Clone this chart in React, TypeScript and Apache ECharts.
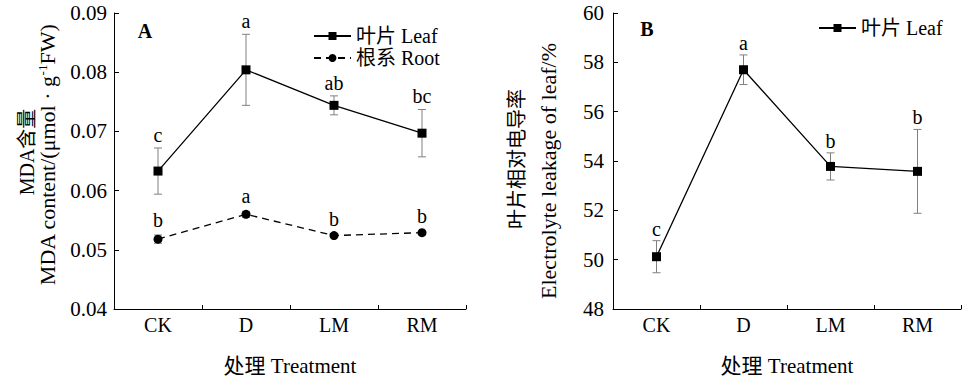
import React, { useEffect, useRef } from "react";
import * as echarts from "echarts";

const categories = ["CK", "D", "LM", "RM"];
const leafMDA = [0.0633, 0.0804, 0.0744, 0.0697];
const leafMDAErr = [0.0039, 0.006, 0.0016, 0.004];
const leafMDALetters = ["c", "a", "ab", "bc"];
const rootMDA = [0.0518, 0.056, 0.0524, 0.0529];
const rootMDAErr = [0.0007, 0.0005, 0.0002, 0.0002];
const rootMDALetters = ["b", "a", "b", "b"];
const leafEL = [50.12, 57.7, 53.78, 53.58];
const leafELErr = [0.65, 0.6, 0.55, 1.7];
const leafELLetters = ["c", "a", "b", "b"];

const FONT = "'Liberation Serif', 'DejaVu Serif', 'Noto Sans CJK SC', serif";

function errRender(letters: string[], offset: number, fs: number) {
  return (params: any, api: any) => {
    const i = api.value(0);
    const v = api.value(1);
    const e = api.value(2);
    const top = api.coord([i, v + e]);
    const bot = api.coord([i, v - e]);
    const cw = 4;
    const st = { stroke: "#808080", lineWidth: 1 };
    return {
      type: "group",
      children: [
        { type: "line", shape: { x1: top[0], y1: top[1], x2: bot[0], y2: bot[1] }, style: st },
        { type: "line", shape: { x1: top[0] - cw, y1: top[1], x2: top[0] + cw, y2: top[1] }, style: st },
        { type: "line", shape: { x1: bot[0] - cw, y1: bot[1], x2: bot[0] + cw, y2: bot[1] }, style: st },
        {
          type: "text",
          x: top[0],
          y: top[1] - offset,
          style: {
            text: letters[params.dataIndex],
            fontSize: fs,
            fontFamily: FONT,
            fill: "#000",
            align: "center",
            verticalAlign: "middle",
          },
        },
      ],
    };
  };
}

function toErrData(vals: number[], errs: number[]) {
  return vals.map((v, i) => [i, v, errs[i]]);
}

export default function App() {
  const ref = useRef<HTMLDivElement>(null);
  useEffect(() => {
    if (!ref.current) return;
    const chart = echarts.init(ref.current, undefined, { renderer: "svg" });
    const axisText = { color: "#000", fontSize: 20, fontFamily: FONT };
    const xAxisCommon = {
      type: "category",
      data: categories,
      boundaryGap: true,
      axisLine: { show: true, lineStyle: { color: "#000", width: 1 } },
      axisTick: { show: true, inside: true, length: 4, lineStyle: { color: "#000" } },
      axisLabel: { ...axisText, margin: 6 },
      nameLocation: "middle",
      nameGap: 46,
      nameTextStyle: { ...axisText, fontSize: 21 },
      splitLine: { show: false },
    };
    const yAxisCommon = {
      type: "value",
      axisLine: { show: true, lineStyle: { color: "#000", width: 1 } },
      axisTick: { show: true, inside: true, length: 5, lineStyle: { color: "#000" } },
      splitLine: { show: false },
    };
    chart.setOption({
      animation: false,
      grid: [
        { left: 114, top: 13, width: 352, height: 309 },
        { left: 613, top: 13, width: 348, height: 306 },
      ],
      xAxis: [
        { ...xAxisCommon, gridIndex: 0, name: "处理 Treatment" },
        { ...xAxisCommon, gridIndex: 1, name: "处理 Treatment" },
      ],
      yAxis: [
        {
          ...yAxisCommon,
          gridIndex: 0,
          min: 0.04,
          max: 0.09,
          interval: 0.01,
          axisLabel: { ...axisText, fontSize: 21, margin: 7, formatter: (v: number) => v.toFixed(2) },
        },
        {
          ...yAxisCommon,
          gridIndex: 1,
          min: 48,
          max: 60,
          interval: 2,
          axisLabel: { ...axisText, fontSize: 21, margin: 9 },
        },
      ],
      legend: [
        {
          data: ["叶片 Leaf", "根系 Root"],
          orient: "vertical",
          left: 308,
          top: 21,
          itemWidth: 37,
          itemHeight: 10,
          itemGap: 2,
          textStyle: { ...axisText },
        },
        {
          data: ["叶片 Leaf B"],
          orient: "vertical",
          left: 813,
          top: 13,
          itemWidth: 37,
          itemHeight: 10,
          textStyle: { ...axisText },
          formatter: () => "叶片 Leaf",
        },
      ],
      series: [
        {
          type: "custom",
          xAxisIndex: 0,
          yAxisIndex: 0,
          data: toErrData(leafMDA, leafMDAErr),
          renderItem: errRender(leafMDALetters, 13, 20),
          z: 1,
          silent: true,
        },
        {
          type: "custom",
          xAxisIndex: 0,
          yAxisIndex: 0,
          data: toErrData(rootMDA, rootMDAErr),
          renderItem: errRender(rootMDALetters, 15, 20),
          z: 1,
          silent: true,
        },
        {
          type: "custom",
          xAxisIndex: 1,
          yAxisIndex: 1,
          data: toErrData(leafEL, leafELErr),
          renderItem: errRender(leafELLetters, 12, 20),
          z: 1,
          silent: true,
        },
        {
          name: "叶片 Leaf",
          type: "line",
          xAxisIndex: 0,
          yAxisIndex: 0,
          data: leafMDA,
          symbol: "rect",
          symbolSize: 9,
          itemStyle: { color: "#000" },
          lineStyle: { color: "#000", width: 1.3 },
          z: 3,
        },
        {
          name: "根系 Root",
          type: "line",
          xAxisIndex: 0,
          yAxisIndex: 0,
          data: rootMDA,
          symbol: "circle",
          symbolSize: 9,
          itemStyle: { color: "#000" },
          lineStyle: { color: "#000", width: 1.3, type: [7, 5] },
          z: 3,
        },
        {
          name: "叶片 Leaf B",
          type: "line",
          xAxisIndex: 1,
          yAxisIndex: 1,
          data: leafEL,
          symbol: "rect",
          symbolSize: 9,
          itemStyle: { color: "#000" },
          lineStyle: { color: "#000", width: 1.3 },
          z: 3,
        },
      ],
      graphic: [
        {
          type: "text",
          x: 145,
          y: 31,
          style: { text: "A", fontSize: 20, fontFamily: FONT, fontWeight: "bold", fill: "#000", align: "center", verticalAlign: "middle" },
        },
        {
          type: "text",
          x: 647,
          y: 29,
          style: { text: "B", fontSize: 20, fontFamily: FONT, fontWeight: "bold", fill: "#000", align: "center", verticalAlign: "middle" },
        },
        {
          type: "text",
          x: 27,
          y: 152,
          rotation: Math.PI / 2,
          style: { text: "MDA含量", fontSize: 20, fontFamily: FONT, fill: "#000", align: "center", verticalAlign: "middle" },
        },
        {
          type: "text",
          x: 47,
          y: 155,
          rotation: Math.PI / 2,
          style: {
            text: "{a|MDA content/(μmol · g}{s|-1}{a|FW)}",
            align: "center",
            verticalAlign: "middle",
            rich: {
              a: { fontSize: 22, fontFamily: FONT, fill: "#000", color: "#000" },
              s: { fontSize: 13, fontFamily: FONT, fill: "#000", color: "#000", verticalAlign: "top" },
            },
          },
        },
        {
          type: "text",
          x: 517,
          y: 159,
          rotation: Math.PI / 2,
          style: { text: "叶片相对电导率", fontSize: 20, fontFamily: FONT, fill: "#000", align: "center", verticalAlign: "middle" },
        },
        {
          type: "text",
          x: 548,
          y: 171,
          rotation: Math.PI / 2,
          style: { text: "Electrolyte leakage of leaf/%", fontSize: 22, fontFamily: FONT, fill: "#000", align: "center", verticalAlign: "middle" },
        },
      ],
    });
    return () => chart.dispose();
  }, []);
  return (
    <div
      ref={ref}
      style={{ position: "fixed", left: 0, top: 0, width: 962, height: 381, background: "#fff" }}
    />
  );
}
